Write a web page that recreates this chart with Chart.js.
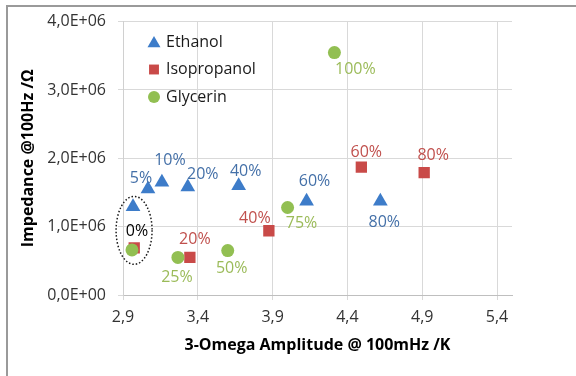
<!DOCTYPE html>
<html>
<head>
<meta charset="utf-8">
<script src="https://cdn.jsdelivr.net/npm/chart.js@4/dist/chart.umd.min.js"></script>
<style>
  html, body { margin: 0; padding: 0; background: #fff; }
  #wrap { width: 576px; height: 376px; position: relative; }
  canvas { display: block; }
</style>
</head>
<body>
<div id="wrap"><canvas id="c" width="576" height="376"></canvas></div>
<script>
// Concentration categories for each solvent
const ethanolConc = ['0%', '5%', '10%', '20%', '40%', '60%', '80%'];
const isoConc     = ['0%', '20%', '40%', '60%', '80%'];
const glyConc     = ['0%', '25%', '50%', '75%', '100%'];

// 3-Omega amplitude @ 100 mHz (K)
const ethanolAmp = [2.967, 3.067, 3.16, 3.333, 3.673, 4.127, 4.62];
const isoAmp     = [2.975, 3.347, 3.875, 4.493, 4.913];
const glyAmp     = [2.96, 3.267, 3.60, 4.00, 4.313];

// Impedance @ 100 Hz (Ohm)
const ethanolImp = [1.29e6, 1.55e6, 1.65e6, 1.58e6, 1.60e6, 1.37e6, 1.37e6];
const isoImp     = [0.69e6, 0.55e6, 0.94e6, 1.87e6, 1.79e6];
const glyImp     = [0.66e6, 0.55e6, 0.65e6, 1.28e6, 3.547e6];

// Axis ticks
const xTicks = [2.9, 3.4, 3.9, 4.4, 4.9, 5.4];
const yTicks = [0, 1e6, 2e6, 3e6, 4e6];

const seriesNames = ['Ethanol', 'Isopropanol', 'Glycerin'];

const FONT = "'Open Sans', 'DejaVu Sans', sans-serif";

// Label placement (pixel offsets from each marker)
const labelOffsets = [
  [[4, 25], [-7, -11], [8, -22], [15, -13], [7, -14], [8, -20], [4, 21]],
  [[0, 0], [5, -18], [-14, -12], [5, -15], [9, -17]],
  [[0, 0], [-1, 20], [4, 18], [14, 16], [21, 17]]
];
const labelColors = ['#4470A8', '#C0504D', '#9BBB59'];
const markerColors = ['#3D7CC9', '#C94A48', '#92BF52'];
const pointStyles = ['triangle', 'rect', 'circle'];
const pointRadii = [8.5, 8, 6.5];

function pts(xs, ys) { return xs.map((x, i) => ({ x: x, y: ys[i] })); }

const datasetLabels = [ethanolConc, isoConc, glyConc];

// Percent labels beside each marker; the 0% group shares one black label
const pointLabelPlugin = {
  id: 'pointLabels',
  afterDatasetsDraw(chart) {
    const ctx = chart.ctx;
    ctx.save();
    ctx.font = '16px ' + FONT;
    ctx.textAlign = 'center';
    ctx.textBaseline = 'middle';
    chart.data.datasets.forEach((ds, d) => {
      const meta = chart.getDatasetMeta(d);
      meta.data.forEach((el, i) => {
        const text = datasetLabels[d][i];
        if (text === '0%' && d !== 0) return;
        const off = labelOffsets[d][i];
        ctx.fillStyle = (text === '0%') ? '#000000' : labelColors[d];
        ctx.fillText(text, el.x + off[0], el.y + off[1]);
      });
    });
    // dotted ellipse around the 0% group
    const zero = chart.data.datasets.map((ds, d) => chart.getDatasetMeta(d).data[0]);
    const xs = zero.map(e => e.x), ys = zero.map(e => e.y);
    const cx = xs.reduce((a, b) => a + b, 0) / xs.length;
    const cy = (Math.min(...ys) + Math.max(...ys)) / 2 + 2;
    ctx.beginPath();
    ctx.setLineDash([1.5, 2]);
    ctx.lineWidth = 1.5;
    ctx.strokeStyle = '#1a1a1a';
    ctx.ellipse(cx + 1, cy, 18, 34, 0, 0, Math.PI * 2);
    ctx.stroke();
    ctx.restore();
  }
};

// Legend drawn inside the plot area, plus the frame lines
const innerLegendPlugin = {
  id: 'innerLegend',
  beforeDraw(chart) {
    const ctx = chart.ctx;
    ctx.save();
    ctx.strokeStyle = '#9a9a9a';
    ctx.lineWidth = 2;
    ctx.beginPath();
    ctx.moveTo(7, 376);
    ctx.lineTo(7, 6);
    ctx.lineTo(576, 6);
    ctx.stroke();
    ctx.restore();
  },
  afterDraw(chart) {
    const ctx = chart.ctx;
    ctx.save();
    ctx.font = '16px ' + FONT;
    ctx.textBaseline = 'middle';
    ctx.textAlign = 'left';
    const x0 = 154, y0 = 42, step = 27.5;
    const legendRadii = [7.5, 7, 6];
    seriesNames.forEach((name, i) => {
      const y = y0 + i * step;
      ctx.fillStyle = markerColors[i];
      Chart.helpers.drawPoint(ctx, {
        pointStyle: pointStyles[i], radius: legendRadii[i], rotation: 0, borderWidth: 0
      }, x0, y + (i === 0 ? 1.5 : 0));
      ctx.fillStyle = '#1a1a1a';
      ctx.fillText(name, x0 + 12, y);
    });
    ctx.restore();
  }
};

const datasets = [
  { label: seriesNames[0], data: pts(ethanolAmp, ethanolImp), order: 2 },
  { label: seriesNames[1], data: pts(isoAmp, isoImp), order: 1 },
  { label: seriesNames[2], data: pts(glyAmp, glyImp), order: 0 }
].map((ds, i) => Object.assign(ds, {
  pointStyle: pointStyles[i],
  pointRadius: pointRadii[i],
  pointHoverRadius: pointRadii[i],
  backgroundColor: markerColors[i],
  borderColor: markerColors[i],
  borderWidth: 0,
  showLine: false
}));

new Chart(document.getElementById('c'), {
  type: 'scatter',
  data: { datasets: datasets },
  options: {
    responsive: false,
    animation: false,
    devicePixelRatio: 1,
    layout: { padding: { left: 0, top: 17, right: 64, bottom: 0 } },
    plugins: {
      legend: { display: false },
      tooltip: { enabled: false }
    },
    scales: {
      x: {
        type: 'linear',
        min: 2.9,
        max: 5.5,
        afterBuildTicks(scale) { scale.ticks = xTicks.map(v => ({ value: v })); },
        afterFit(scale) { scale.height = 81; },
        ticks: {
          padding: 8,
          color: '#333',
          font: { family: FONT, size: 16 },
          callback: v => v.toFixed(1).replace('.', ',')
        },
        grid: { color: '#D9D9D9', lineWidth: 1, tickLength: 5, drawTicks: true },
        border: { color: '#BFBFBF', width: 1 },
        title: {
          display: true,
          text: '3-Omega Amplitude @ 100mHz /K',
          color: '#000',
          font: { family: FONT, size: 16, weight: 'bold' },
          padding: { top: 0, bottom: 21 }
        }
      },
      y: {
        type: 'linear',
        min: 0,
        max: 4e6,
        afterBuildTicks(scale) { scale.ticks = yTicks.map(v => ({ value: v })); },
        afterFit(scale) { scale.width = 123; },
        ticks: {
          padding: 12,
          color: '#333',
          font: { family: FONT, size: 16 },
          callback: v => v === 0 ? '0,0E+00' : (v / 1e6).toFixed(1).replace('.', ',') + 'E+06'
        },
        grid: { color: '#D9D9D9', lineWidth: 1, tickLength: 5, drawTicks: true },
        border: { color: '#D0D0D0', width: 1 },
        title: {
          display: true,
          text: 'Impedance @100Hz /Ω',
          color: '#000',
          font: { family: FONT, size: 16, weight: 'bold' },
          padding: { top: 19, bottom: 0 }
        }
      }
    }
  },
  plugins: [pointLabelPlugin, innerLegendPlugin]
});
</script>
</body>
</html>
